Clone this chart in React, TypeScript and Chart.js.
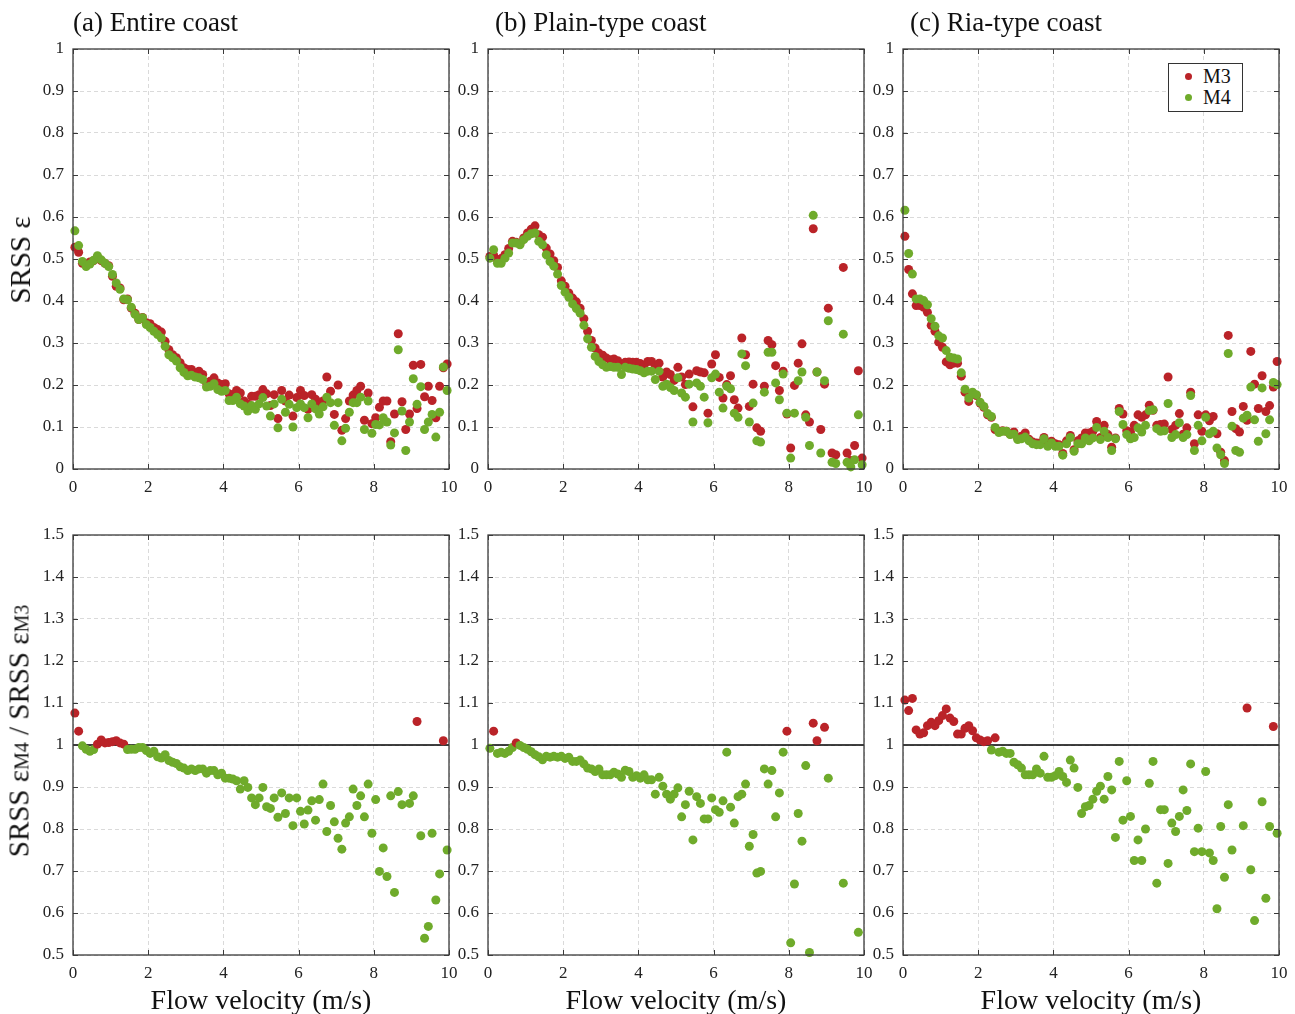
import React, { useEffect, useRef } from 'react';
import { Chart, registerables } from 'chart.js';
Chart.register(...registerables);

const RED = '#BA2328';
const GREEN = '#6FAB2B';
const SERIF = "'Liberation Serif', 'Times New Roman', serif";

// Flow velocity bins (m/s)
const velocity = [
  0.05, 0.15, 0.25, 0.35, 0.45, 0.55, 0.65, 0.75, 0.85, 0.95,
  1.05, 1.15, 1.25, 1.35, 1.45, 1.55, 1.65, 1.75, 1.85, 1.95,
  2.05, 2.15, 2.25, 2.35, 2.45, 2.55, 2.65, 2.75, 2.85, 2.95,
  3.05, 3.15, 3.25, 3.35, 3.45, 3.55, 3.65, 3.75, 3.85, 3.95,
  4.05, 4.15, 4.25, 4.35, 4.45, 4.55, 4.65, 4.75, 4.85, 4.95,
  5.05, 5.15, 5.25, 5.35, 5.45, 5.55, 5.65, 5.75, 5.85, 5.95,
  6.05, 6.15, 6.25, 6.35, 6.45, 6.55, 6.65, 6.75, 6.85, 6.95,
  7.05, 7.15, 7.25, 7.35, 7.45, 7.55, 7.65, 7.75, 7.85, 7.95,
  8.05, 8.15, 8.25, 8.35, 8.45, 8.55, 8.65, 8.75, 8.85, 8.95,
  9.05, 9.15, 9.25, 9.35, 9.45, 9.55, 9.65, 9.75, 9.85, 9.95,
];

// (a) Entire coast
const m3Entire = [
  0.528, 0.516, 0.49, 0.488, 0.493, 0.496, 0.504, 0.496, 0.49, 0.484,
  0.459, 0.435, 0.431, 0.403, 0.405, 0.383, 0.371, 0.356, 0.361, 0.348,
  0.346, 0.337, 0.332, 0.326, 0.304, 0.284, 0.272, 0.265, 0.253, 0.241,
  0.237, 0.237, 0.229, 0.233, 0.225, 0.205, 0.209, 0.217, 0.205, 0.201,
  0.203, 0.179, 0.177, 0.187, 0.181, 0.162, 0.155, 0.173, 0.173, 0.177,
  0.189, 0.179, 0.151, 0.177, 0.12, 0.187, 0.162, 0.176, 0.126, 0.17,
  0.187, 0.175, 0.142, 0.177, 0.166, 0.154, 0.162, 0.219, 0.185, 0.13,
  0.2, 0.092, 0.12, 0.162, 0.176, 0.187, 0.197, 0.116, 0.181, 0.108,
  0.122, 0.147, 0.162, 0.162, 0.065, 0.131, 0.322, 0.16, 0.094, 0.131,
  0.247, 0.144, 0.249, 0.172, 0.197, 0.163, 0.122, 0.197, 0.241, 0.25,
];
const m4Entire = [
  0.567, 0.532, 0.494, 0.482, 0.488, 0.497, 0.508, 0.498, 0.49, 0.482,
  0.463, 0.443, 0.428, 0.405, 0.403, 0.385, 0.368, 0.356, 0.36, 0.344,
  0.337, 0.328, 0.32, 0.312, 0.292, 0.272, 0.265, 0.257, 0.241, 0.23,
  0.222, 0.223, 0.219, 0.217, 0.213, 0.195, 0.197, 0.203, 0.189, 0.185,
  0.187, 0.163, 0.163, 0.171, 0.155, 0.15, 0.138, 0.151, 0.142, 0.155,
  0.17, 0.15, 0.126, 0.155, 0.098, 0.166, 0.135, 0.154, 0.1, 0.146,
  0.155, 0.146, 0.122, 0.155, 0.143, 0.131, 0.148, 0.171, 0.158, 0.104,
  0.158, 0.067, 0.097, 0.135, 0.158, 0.158, 0.171, 0.094, 0.162, 0.085,
  0.106, 0.105, 0.122, 0.112, 0.057, 0.086, 0.284, 0.138, 0.044, 0.112,
  0.215, 0.154, 0.196, 0.094, 0.112, 0.13, 0.076, 0.135, 0.243, 0.187,
];
const ratioEntire = [
  1.076, 1.033, 0.998, 0.99, 0.985, 0.989, 1.002, 1.012, 1.005, 1.006,
  1.008, 1.01, 1.005, 1.002, 0.989, 0.99, 0.99, 0.994, 0.994, 0.987,
  0.98, 0.985, 0.972, 0.969, 0.977, 0.963, 0.959, 0.956, 0.948, 0.945,
  0.939, 0.943, 0.939, 0.943, 0.943, 0.933, 0.939, 0.939, 0.929, 0.933,
  0.921, 0.921, 0.919, 0.915, 0.895, 0.915, 0.899, 0.874, 0.858, 0.874,
  0.899, 0.853, 0.849, 0.874, 0.828, 0.886, 0.837, 0.874, 0.808, 0.874,
  0.842, 0.812, 0.845, 0.867, 0.821, 0.87, 0.907, 0.794, 0.856, 0.817,
  0.778, 0.752, 0.814, 0.829, 0.895, 0.856, 0.879, 0.829, 0.907, 0.79,
  0.87, 0.699, 0.755, 0.687, 0.879, 0.649, 0.889, 0.858, null, 0.861,
  0.879, 1.056, 0.784, 0.54, 0.568, 0.79, 0.631, 0.693, 1.01, 0.75,
];

// (b) Plain-type coast
const m3Plain = [
  0.506, 0.509, 0.498, 0.501, 0.51, 0.525, 0.542, 0.54, 0.536, 0.55,
  0.562, 0.571, 0.579, 0.558, 0.552, 0.526, 0.512, 0.496, 0.48, 0.448,
  0.435, 0.419, 0.407, 0.398, 0.383, 0.358, 0.328, 0.306, 0.288, 0.276,
  0.271, 0.264, 0.26, 0.262, 0.258, 0.248, 0.254, 0.255, 0.254, 0.254,
  0.251, 0.247, 0.256, 0.256, 0.244, 0.252, 0.219, 0.231, 0.225, 0.211,
  0.242, 0.219, 0.201, 0.226, 0.148, 0.234, 0.231, 0.229, 0.133, 0.25,
  0.272, 0.218, 0.169, 0.201, 0.222, 0.165, 0.145, 0.312, 0.272, 0.149,
  0.202, 0.098, 0.09, 0.197, 0.306, 0.296, 0.246, 0.187, 0.233, 0.131,
  0.05, 0.199, 0.252, 0.298, 0.129, 0.112, 0.572, 0.231, 0.094, 0.202,
  0.383, 0.038, 0.034, null, 0.48, 0.038, 0.02, 0.056, 0.234, 0.026,
];
const m4Plain = [
  0.502, 0.522, 0.49, 0.49, 0.502, 0.514, 0.538, 0.538, 0.534, 0.546,
  0.554, 0.56, 0.562, 0.542, 0.534, 0.51, 0.494, 0.483, 0.464, 0.437,
  0.421, 0.409, 0.393, 0.382, 0.371, 0.342, 0.31, 0.29, 0.268, 0.256,
  0.248, 0.242, 0.244, 0.242, 0.242, 0.225, 0.242, 0.24, 0.238, 0.237,
  0.234, 0.229, 0.233, 0.233, 0.213, 0.233, 0.197, 0.202, 0.194, 0.187,
  0.217, 0.181, 0.171, 0.202, 0.112, 0.205, 0.197, 0.171, 0.11, 0.217,
  0.226, 0.183, 0.145, 0.197, 0.191, 0.133, 0.123, 0.274, 0.246, 0.112,
  0.157, 0.067, 0.064, 0.183, 0.278, 0.278, 0.205, 0.165, 0.226, 0.133,
  0.026, 0.133, 0.21, 0.231, 0.123, 0.056, 0.604, 0.231, 0.038, 0.21,
  0.353, 0.016, 0.013, null, 0.321, 0.016, 0.005, 0.022, 0.129, 0.01,
];
const ratioPlain = [
  0.992, 1.033, 0.98, 0.983, 0.98, 0.985, 0.994, 1.005, 0.999, 0.994,
  0.99, 0.984, 0.977, 0.972, 0.965, 0.973, 0.971, 0.973, 0.971, 0.973,
  0.968, 0.971, 0.961, 0.961, 0.964, 0.955, 0.945, 0.943, 0.937, 0.943,
  0.929, 0.929, 0.929, 0.935, 0.931, 0.923, 0.94, 0.937, 0.923, 0.927,
  0.921, 0.929, 0.917, 0.917, 0.883, 0.923, 0.902, 0.883, 0.871, 0.883,
  0.898, 0.829, 0.858, 0.89, 0.774, 0.877, 0.861, 0.824, 0.824, 0.874,
  0.846, 0.84, 0.867, 0.983, 0.852, 0.814, 0.877, 0.883, 0.907, 0.759,
  0.787, 0.695, 0.699, 0.943, 0.907, 0.939, 0.829, 0.886, 0.983, 1.033,
  0.529, 0.669, 0.837, 0.771, 0.951, 0.506, 1.052, 1.01, null, 1.042,
  0.921, null, null, null, 0.671, null, null, null, 0.554, null,
];

// (c) Ria-type coast
const m3Ria = [
  0.554, 0.475, 0.417, 0.389, 0.389, 0.385, 0.373, 0.342, 0.328, 0.302,
  0.29, 0.255, 0.248, 0.252, 0.252, 0.221, 0.183, 0.161, 0.179, 0.175,
  0.157, 0.147, 0.129, 0.123, 0.094, 0.09, 0.091, 0.09, 0.083, 0.088,
  0.074, 0.078, 0.086, 0.071, 0.064, 0.062, 0.062, 0.075, 0.06, 0.066,
  0.06, 0.058, 0.037, 0.067, 0.08, 0.046, 0.067, 0.074, 0.086, 0.086,
  0.09, 0.113, 0.075, 0.104, 0.082, 0.052, 0.074, 0.144, 0.131, 0.091,
  0.088, 0.104, 0.129, 0.123, 0.129, 0.152, 0.14, 0.104, 0.106, 0.107,
  0.219, 0.094, 0.104, 0.132, 0.083, 0.098, 0.183, 0.06, 0.129, 0.09,
  0.129, 0.115, 0.125, 0.084, 0.04, 0.02, 0.318, 0.137, 0.096, 0.088,
  0.149, 0.116, 0.28, 0.202, 0.144, 0.222, 0.137, 0.151, 0.195, 0.256,
];
const m4Ria = [
  0.616, 0.513, 0.464, 0.405, 0.405, 0.401, 0.391, 0.358, 0.34, 0.317,
  0.312, 0.282, 0.266, 0.264, 0.262, 0.229, 0.19, 0.169, 0.183, 0.177,
  0.159, 0.149, 0.132, 0.125, 0.099, 0.087, 0.09, 0.09, 0.082, 0.083,
  0.07, 0.072, 0.076, 0.067, 0.06, 0.058, 0.058, 0.072, 0.054, 0.062,
  0.054, 0.054, 0.033, 0.06, 0.075, 0.042, 0.06, 0.06, 0.074, 0.067,
  0.074, 0.099, 0.07, 0.09, 0.075, 0.044, 0.072, 0.137, 0.106, 0.082,
  0.072, 0.075, 0.098, 0.088, 0.104, 0.139, 0.141, 0.096, 0.09, 0.091,
  0.156, 0.075, 0.082, 0.11, 0.075, 0.082, 0.175, 0.044, 0.104, 0.067,
  0.123, 0.084, 0.09, 0.05, 0.034, 0.013, 0.275, 0.102, 0.044, 0.04,
  0.121, 0.128, 0.195, 0.117, 0.066, 0.193, 0.084, 0.117, 0.206, 0.201,
];
const ratioRia = [
  1.107, 1.082, 1.111, 1.036, 1.026, 1.029, 1.046, 1.054, 1.046, 1.058,
  1.07, 1.086, 1.064, 1.056, 1.026, 1.026, 1.04, 1.046, 1.034, 1.017,
  1.012, 1.008, 1.01, 0.988, 1.017, 0.983, 0.985, 0.98, 0.98, 0.959,
  0.953, 0.945, 0.929, 0.929, 0.929, 0.943, 0.933, 0.973, 0.923, 0.923,
  0.927, 0.937, 0.925, 0.911, 0.964, 0.945, 0.899, 0.837, 0.853, 0.856,
  0.871, 0.89, 0.902, 0.871, 0.925, 0.893, 0.78, 0.961, 0.821, 0.915,
  0.83, 0.725, 0.774, 0.725, 0.8, 0.909, 0.961, 0.671, 0.846, 0.846,
  0.718, 0.814, 0.794, 0.83, 0.893, 0.844, 0.955, 0.746, 0.802, 0.746,
  0.937, 0.743, 0.725, 0.61, 0.806, 0.685, 0.858, 0.75, null, null,
  0.808, 1.088, 0.703, 0.582, null, 0.865, 0.635, 0.806, 1.044, 0.79,
];

const panelTitles = ['(a) Entire coast', '(b) Plain-type coast', '(c) Ria-type coast'];
const seriesNames = ['M3', 'M4'];
const xLabel = 'Flow velocity (m/s)';

// layout (page pixels)
const COLS = [73, 488, 903];
const PLOT_W = 376;
const PLOT_H = 420;
const ROWS = [49, 535];
const YAXIS_W = 45;
const XAXIS_H = 32;
const CANVAS_T = 26; // canvas space above plot
const CANVAS_R = 24; // canvas space right of plot

function toPoints(vals: (number | null)[]) {
  const out: { x: number; y: number }[] = [];
  vals.forEach((v, i) => {
    if (v !== null && v !== undefined) out.push({ x: velocity[i], y: v });
  });
  return out;
}

const framePlugin = {
  id: 'frame',
  afterDraw(chart: any) {
    const { ctx, chartArea: a, scales } = chart;
    ctx.save();
    ctx.strokeStyle = '#3a3a3a';
    ctx.lineWidth = 1.3;
    ctx.strokeRect(a.left, a.top, a.right - a.left, a.bottom - a.top);
    ctx.lineWidth = 1;
    const L = 5;
    ctx.beginPath();
    scales.x.ticks.forEach((t: any) => {
      const px = Math.round(scales.x.getPixelForValue(t.value)) + 0.5;
      ctx.moveTo(px, a.bottom);
      ctx.lineTo(px, a.bottom - L);
      ctx.moveTo(px, a.top);
      ctx.lineTo(px, a.top + L);
    });
    scales.y.ticks.forEach((t: any) => {
      const py = Math.round(scales.y.getPixelForValue(t.value)) + 0.5;
      ctx.moveTo(a.left, py);
      ctx.lineTo(a.left + L, py);
      ctx.moveTo(a.right, py);
      ctx.lineTo(a.right - L, py);
    });
    ctx.stroke();
    ctx.restore();
  },
};

function fmt(v: number) {
  return String(Number(v.toFixed(1)));
}

function Panel({ col, row, m3, m4, ratio }: any) {
  const ref = useRef<HTMLCanvasElement>(null);
  const W = PLOT_W + YAXIS_W + CANVAS_R;
  const H = PLOT_H + CANVAS_T + XAXIS_H;
  useEffect(() => {
    if (!ref.current) return;
    const tickFont = { family: SERIF, size: 17 };
    const isTop = row === 0;
    const datasets: any[] = isTop
      ? [
          {
            label: seriesNames[1],
            data: toPoints(m4),
            backgroundColor: GREEN,
            pointRadius: 4.5,
            pointBorderWidth: 0,
            clip: false,
          },
          {
            label: seriesNames[0],
            data: toPoints(m3),
            backgroundColor: RED,
            pointRadius: 4.5,
            pointBorderWidth: 0,
            clip: false,
          },
        ]
      : [
          {
            label: 'ratio',
            data: toPoints(ratio),
            pointBackgroundColor: (c: any) => (c.raw && c.raw.y > 1 ? RED : GREEN),
            backgroundColor: GREEN,
            pointRadius: 4.5,
            pointBorderWidth: 0,
            clip: false,
          },
          {
            type: 'line',
            label: 'unity',
            data: [
              { x: 0, y: 1 },
              { x: 10, y: 1 },
            ],
            borderColor: '#000',
            borderWidth: 1.3,
            pointRadius: 0,
          },
        ];
    const chart = new Chart(ref.current, {
      type: 'scatter',
      data: { datasets },
      options: {
        animation: false,
        responsive: false,
        devicePixelRatio: 1,
        layout: { padding: { top: CANVAS_T, right: CANVAS_R, left: 0, bottom: 0 } },
        plugins: { legend: { display: false }, tooltip: { enabled: false } },
        scales: {
          x: {
            type: 'linear',
            min: 0,
            max: 10,
            ticks: { stepSize: 2, font: tickFont, color: '#222', padding: 8, maxRotation: 0 },
            grid: { color: '#dadada', lineWidth: 1, drawTicks: false },
            border: { display: false, dash: [4, 3] },
            afterFit: (s: any) => {
              s.height = XAXIS_H;
            },
          },
          y: {
            type: 'linear',
            min: isTop ? 0 : 0.5,
            max: isTop ? 1 : 1.5,
            ticks: { stepSize: 0.1, font: tickFont, color: '#222', padding: 9, callback: (v: any) => fmt(v) },
            grid: { color: '#dadada', lineWidth: 1, drawTicks: false },
            border: { display: false, dash: [4, 3] },
            afterFit: (s: any) => {
              s.width = YAXIS_W;
            },
          },
        },
      },
      plugins: [framePlugin],
    } as any);
    // keep the plot rectangle on its page position even if layout differs slightly
    const a = chart.chartArea;
    if (ref.current) {
      ref.current.style.top = ROWS[row] - a.top + 'px';
      ref.current.style.left = COLS[col] - a.left + 'px';
    }
    return () => chart.destroy();
  }, []);
  return (
    <canvas
      ref={ref}
      width={W}
      height={H}
      style={{
        position: 'absolute',
        left: COLS[col] - YAXIS_W,
        top: ROWS[row] - CANVAS_T,
        width: W,
        height: H,
      }}
    />
  );
}

export default function App() {
  const tops = [
    [m3Entire, m4Entire],
    [m3Plain, m4Plain],
    [m3Ria, m4Ria],
  ];
  const ratios = [ratioEntire, ratioPlain, ratioRia];
  const text = { position: 'absolute' as const, fontFamily: SERIF, color: '#111', whiteSpace: 'nowrap' as const };
  return (
    <div style={{ position: 'fixed', left: 0, top: 0, width: 1295, height: 1014, background: '#fff', overflow: 'hidden' }}>
      {[0, 1, 2].map((i) => (
        <Panel key={'top' + i} col={i} row={0} m3={tops[i][0]} m4={tops[i][1]} />
      ))}
      {[0, 1, 2].map((i) => (
        <Panel key={'bot' + i} col={i} row={1} ratio={ratios[i]} />
      ))}
      {panelTitles.map((t, i) => (
        <div key={'t' + i} style={{ ...text, left: COLS[i] + (i === 0 ? 0 : 7), top: 7, fontSize: 27, lineHeight: '30px' }}>
          {t}
        </div>
      ))}
      {[0, 1, 2].map((i) => (
        <div
          key={'xl' + i}
          style={{ ...text, left: COLS[i], width: PLOT_W, textAlign: 'center', top: 984, fontSize: 28, lineHeight: '32px' }}
        >
          {xLabel}
        </div>
      ))}
      <div
        style={{
          ...text,
          left: 20,
          top: ROWS[0] + PLOT_H / 2 + 1,
          fontSize: 29,
          transform: 'translate(-50%, -50%) rotate(-90deg)',
          lineHeight: '32px',
        }}
      >
        SRSS ε
      </div>
      <div
        style={{
          ...text,
          left: 20,
          top: ROWS[1] + PLOT_H / 2 - 14,
          fontSize: 29,
          transform: 'translate(-50%, -50%) rotate(-90deg)',
          lineHeight: '32px',
        }}
      >
        SRSS ε<span style={{ fontSize: 20 }}>M4</span> / SRSS ε<span style={{ fontSize: 20 }}>M3</span>
      </div>
      <div
        style={{
          position: 'absolute',
          left: 1168,
          top: 63,
          width: 73,
          height: 47,
          border: '1px solid #333',
          background: '#fff',
          fontFamily: SERIF,
          fontSize: 20,
          color: '#111',
        }}
      >
        {seriesNames.map((n, i) => (
          <div key={n} style={{ position: 'absolute', left: 0, top: 1 + i * 21, height: 22, lineHeight: '22px', width: 73 }}>
            <span
              style={{
                position: 'absolute',
                left: 16,
                top: 8,
                width: 7,
                height: 7,
                borderRadius: '50%',
                background: i === 0 ? RED : GREEN,
              }}
            />
            <span style={{ position: 'absolute', left: 34 }}>{n}</span>
          </div>
        ))}
      </div>
    </div>
  );
}
